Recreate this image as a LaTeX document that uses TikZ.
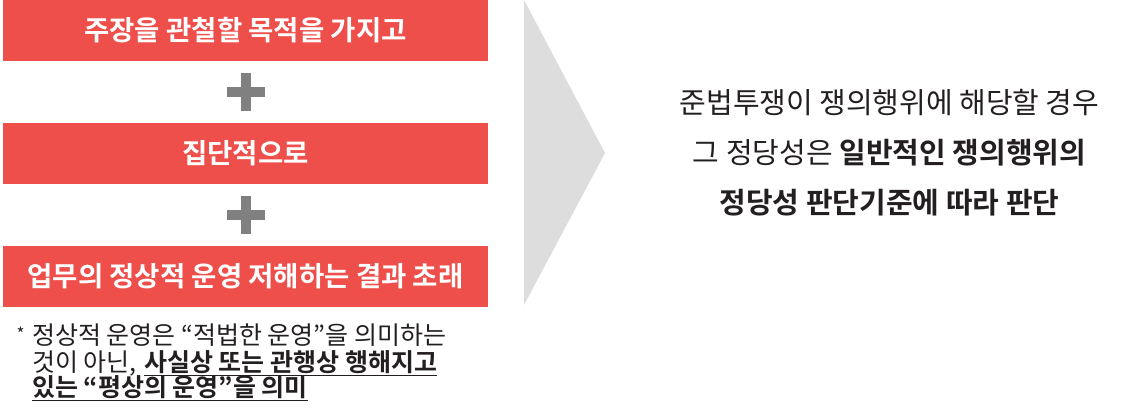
\documentclass[tikz,border=0pt]{standalone}
\usepackage{fontspec}
\setmainfont{Noto Sans CJK KR}[BoldFont={Noto Sans CJK KR Bold}]
\usetikzlibrary{calc}
\definecolor{boxred}{HTML}{EE4F4A}
\definecolor{plusgray}{HTML}{808080}
\definecolor{arrowgray}{HTML}{DDDDDD}
\definecolor{txt}{HTML}{231F20}
\tikzset{
  redbox/.style={fill=boxred, minimum width=485pt, minimum height=61pt, inner sep=0pt,
    text=white, font=\fontsize{27.5}{32}\selectfont\bfseries},
  righttext/.style={text=txt, font=\fontsize{29}{34}\selectfont, inner sep=0pt},
  notetext/.style={text=txt, font=\fontsize{25}{28}\selectfont, inner sep=0pt, anchor=base west},
  notebold/.style={notetext, font=\fontsize{25}{28}\selectfont\bfseries},
  uline/.style={draw=txt, line width=1.8pt},
}
\newcommand{\plussign}[1]{%
  \fill[plusgray] ($(#1)+(-19,-5)$) rectangle ($(#1)+(19,5)$);
  \fill[plusgray] ($(#1)+(-4.8,-19)$) rectangle ($(#1)+(4.8,19)$);
}
\begin{document}
\begin{tikzpicture}[x=1pt,y=-1pt]
\useasboundingbox (0,0) rectangle (1137,417);
% arrow
\coordinate (at) at (524,0);
\coordinate (ab) at (524,305);
\coordinate (tip) at (605,153);
\fill[arrowgray] (at) -- (tip) -- (ab) -- cycle;
% boxes
\node[redbox] (b1) at (245.5,30.5) {주장을 관철할 목적을 가지고};
\node[redbox] (b2) at (245.5,153.5) {집단적으로};
\node[redbox] (b3) at (245.5,276.5) {업무의 정상적 운영 저해하는 결과 초래};
% plus signs
\coordinate (p1) at (246,92);
\coordinate (p2) at (246,215);
\plussign{p1}
\plussign{p2}
% note
\node[text=txt, font=\fontsize{17}{17}\selectfont, inner sep=0pt, anchor=base west] (ast) at (16.5,340) {*};
\node[notetext] (n1) at (32,344) {정상적 운영은 “적법한 운영”을 의미하는};
\node[notetext] (n2a) at (32,371) {것이 아닌,};
\node[notebold] (n2b) at ($(n2a.base east)+(7,0)$) {사실상 또는 관행상 행해지고};
\node[notebold] (n3) at (32,396) {있는 “평상의 운영”을 의미};
\draw[uline] ($(n2b.base west)+(0,4.5)$) -- ($(n2b.base east)+(0,4.5)$);
\draw[uline] ($(n3.base west)+(0,4.5)$) -- ($(n3.base east)+(0,4.5)$);
% right text
\node[righttext] (r1) at (889.5,103) {준법투쟁이 쟁의행위에 해당할 경우};
\node[righttext] (r2) at (889.5,153) {그 정당성은 \textbf{일반적인 쟁의행위의}};
\node[righttext] (r3) at (889.5,203) {\textbf{정당성 판단기준에 따라 판단}};
\end{tikzpicture}
\end{document}
